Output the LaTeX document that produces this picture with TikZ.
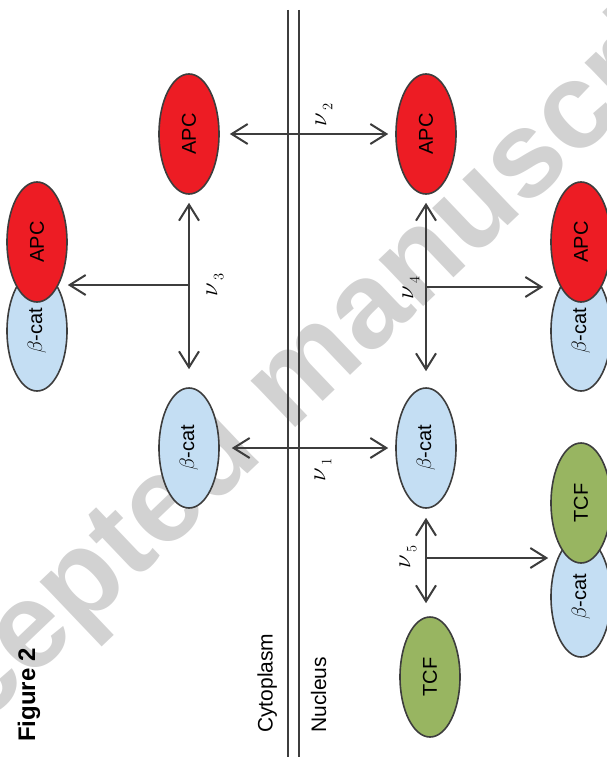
\documentclass[tikz,border=0pt]{standalone}
\usepackage[no-math]{fontspec}
\setmainfont{Liberation Sans}
\usetikzlibrary{arrows.meta,shapes.geometric}
\definecolor{apcred}{HTML}{ED1C24}
\definecolor{bcatblue}{HTML}{C4DEF3}
\definecolor{tcfgreen}{HTML}{98B561}
\definecolor{linegray}{HTML}{3D3D3D}
\definecolor{wmgray}{HTML}{D2D2D2}
\tikzset{
    >={Straight Barb[length=16pt,width=20pt]},
    mol/.style={ellipse,draw=linegray,line width=1.6pt,minimum width=120pt,minimum height=60pt,
        inner sep=0pt,rotate=90,font=\fontsize{20}{20}\selectfont},
    apc/.style={mol,fill=apcred},
    bcat/.style={mol,fill=bcatblue},
    tcf/.style={mol,fill=tcfgreen},
    flux/.style={draw=linegray,line width=2pt},
    membrane/.style={draw=linegray,line width=1.8pt},
    rate/.style={rotate=90,inner sep=0pt},
    region/.style={rotate=90,anchor=base west,inner sep=0pt,font=\fontsize{21}{21}\selectfont},
    watermark/.style={rotate=43.6,inner sep=0pt,text=wmgray,font=\bfseries\fontsize{122}{122}\selectfont}
}
\newcommand{\ratelabel}[1]{{\fontsize{31}{31}\selectfont$\nu$}\kern2pt\raisebox{-6pt}{\fontsize{15}{15}\selectfont$#1$}}

\begin{document}
\begin{tikzpicture}[x=1pt,y=-1pt]
    \useasboundingbox (0,0) rectangle (606,762);
    \begin{scope}
        \clip (0,0) rectangle (606,762);
        \node[watermark] (wm) at (295,385) {Accepted manuscript};
    \end{scope}
    % membrane
    \draw[membrane] (288,10) -- (288,757) (299,10) -- (299,757);
    \node[region] (cyto) at (272.5,733) {Cytoplasm};
    \node[region] (nucl) at (326,733) {Nucleus};
    \node[region,font=\bfseries\fontsize{24}{24}\selectfont] (fig) at (35,742) {Figure 2};
    % free species
    \node[apc] (apcC) at (189,134) {APC};
    \node[apc] (apcN) at (426,134) {APC};
    \node[bcat] (bcC) at (189,448) {$\beta$-cat};
    \node[bcat] (bcN) at (426,448) {$\beta$-cat};
    \node[tcf] (tcfN) at (430,677) {TCF};
    % complexes
    \node[bcat] (cxBcL) at (37,331) {$\beta$-cat};
    \node[apc] (cxApcL) at (37,242) {APC};
    \node[bcat] (cxBcR) at (581,331) {$\beta$-cat};
    \node[apc] (cxApcR) at (581,242) {APC};
    \node[bcat] (cxBcT) at (581,597) {$\beta$-cat};
    \node[tcf] (cxTcf) at (581,503) {TCF};
    % transport
    \draw[flux,<->,shorten <=10pt,shorten >=7pt] (apcC) -- (apcN);
    \draw[flux,<->,shorten <=12pt,shorten >=7pt] (bcC) -- (bcN);
    \node[rate] (nu2) at (324,115) {\ratelabel{2}};
    \node[rate] (nu1) at (323,470) {\ratelabel{1}};
    % binding
    \draw[flux,<->,shorten <=8pt,shorten >=18pt] (apcC) -- (bcC);
    \coordinate (br3) at (189,285);
    \draw[flux,->] (br3) -- (br3 -| cxApcL.south);
    \node[rate] (nu3) at (215,285) {\ratelabel{3}};
    \draw[flux,<->,shorten <=8pt,shorten >=16pt] (apcN) -- (bcN);
    \coordinate (br4) at (426,287);
    \draw[flux,->,shorten >=7pt] (br4) -- (br4 -| cxApcR.north);
    \node[rate] (nu4) at (411,288) {\ratelabel{4}};
    \draw[flux,<->,shorten <=9pt,shorten >=13pt] (bcN.west) -- (bcN.west |- tcfN.east);
    \coordinate (br5) at (426,558);
    \draw[flux,->,shorten >=2pt] (br5) -- (br5 -| cxBcT.north);
    \node[rate] (nu5) at (408,557) {\ratelabel{5}};
\end{tikzpicture}
\end{document}
